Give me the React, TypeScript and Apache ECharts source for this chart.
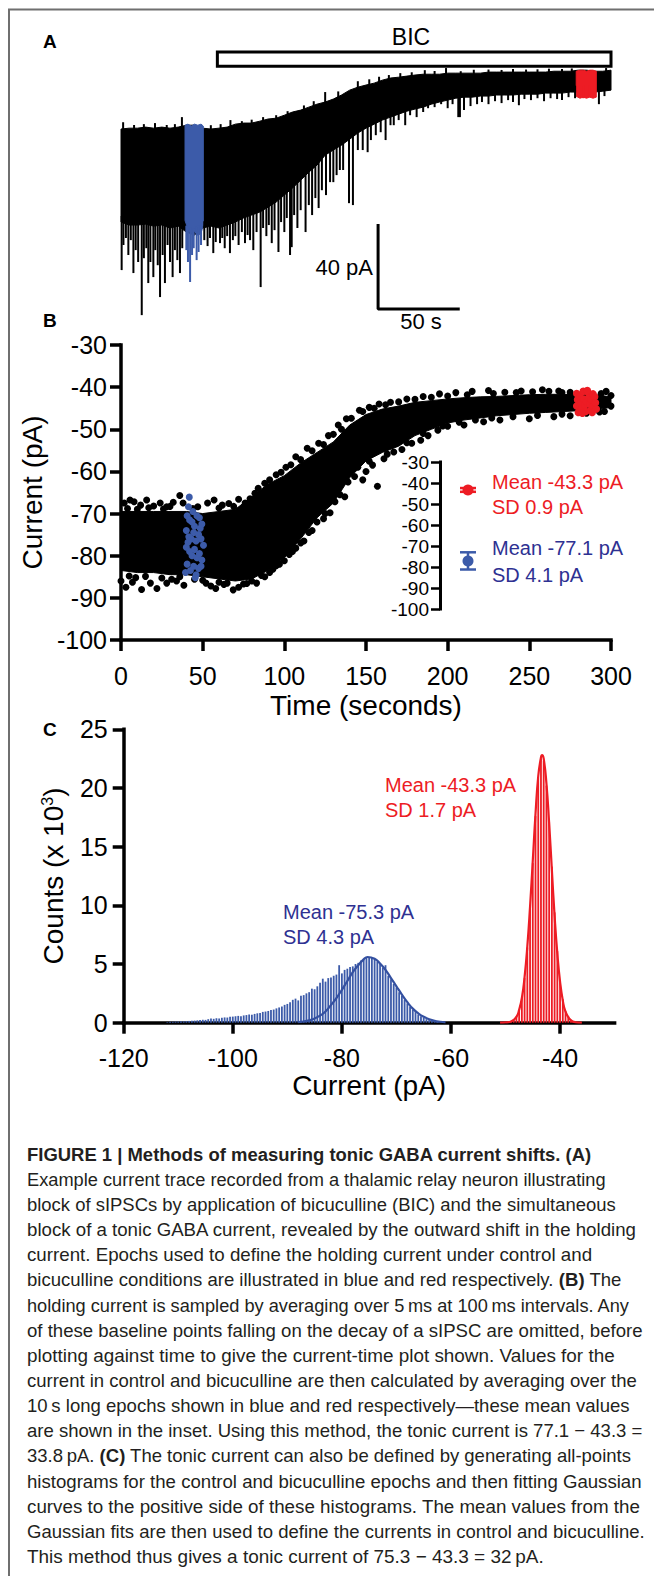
import React, { useEffect, useRef } from "react";
import * as echarts from "echarts";

const FONT = "'Liberation Sans', Arial, Helvetica, sans-serif";
const RED = "#ED1C24";
const BLUE_DOT = "#3C5BA9";
const BLUE_TEXT = "#2E3192";
const INK = "#000";

// ---------------- Panel A: current trace (pA) ----------------
const traceTime = [0,5,10,15,20,25,30,35,40,45,50,55,60,65,70,75,80,85,90,95,100,105,110,115,120,125,130,135,140,145,150,155,160,165,170,175,180,185,190,195,200,205,210,215,220,225,230,235,240,245,250,255,260,265,270,275,280,285,290,295,300];
const traceTop = [-64.9,-64.5,-64.5,-64.0,-64.5,-64.0,-64.5,-64.0,-63.1,-63.1,
  -64.5,-64.9,-64.5,-64.0,-62.6,-62.1,-62.1,-61.2,-60.2,-59.8,
  -58.4,-56.9,-56.0,-54.6,-53.2,-52.2,-50.8,-48.9,-46.6,-45.2,
  -44.2,-43.3,-41.9,-40.9,-40.5,-40.0,-39.5,-39.1,-39.1,-39.1,
  -38.6,-38.6,-38.6,-38.6,-38.6,-38.1,-38.1,-38.1,-38.1,-38.1,
  -38.1,-38.1,-38.1,-37.7,-37.7,-37.7,-37.2,-37.2,-37.7,-37.7,-37.2];
const traceBottom = [-108.7,-110.1,-110.1,-109.7,-110.6,-110.1,-111.5,-110.6,-113.4,-114.8,
  -111.5,-110.6,-111.5,-110.1,-108.7,-106.8,-105.4,-104.0,-101.7,-99.3,
  -96.0,-92.7,-89.0,-85.2,-81.9,-77.2,-74.8,-72.5,-69.7,-66.8,
  -64.5,-62.6,-60.7,-59.3,-57.9,-56.5,-55.5,-54.6,-53.2,-52.2,
  -51.3,-50.4,-49.9,-49.9,-49.4,-49.4,-48.9,-48.9,-48.9,-48.5,
  -48.5,-48.5,-48.0,-48.0,-48.0,-47.5,-47.5,-47.5,-47.5,-47.1,-46.6];
// downward sIPSC tips [time s, current pA]
const traceSpikes = [[0.4,-131.3],[1.5,-119.5],[3,-116.2],[4.5,-124.2],[6,-117.2],[7.6,-132.7],[9,-121.9],[10.5,-127.5],[12.7,-152.5],[14,-125.7],[15.5,-121.0],[16.7,-137.4],[18,-127.5],[19.8,-134.6],[21,-121.9],[22.5,-129.0],[23.9,-144.0],[25.5,-124.2],[26.9,-137.4],[28.5,-119.5],[30,-127.5],[31.6,-134.6],[33,-121.9],[34.5,-126.6],[36.1,-132.7],[37.5,-121.0],
  [40,-121.9],[41,-127.5],[42.3,-136.9],[43.5,-124.2],[44.5,-121.0],[46.3,-126.6],[47.5,-122.8],[49,-119.5],
  [51,-117.2],[53,-120.0],[54.5,-116.2],[56.5,-123.3],[58,-118.1],[60.6,-118.6],[62,-116.2],[63.5,-121.0],[65,-115.3],[66.7,-123.3],[68.5,-117.2],[70,-115.3],[72,-119.5],[74,-113.4],[75.9,-118.6],[77.5,-114.8],[79,-117.2],[81,-121.9],[83,-113.4],[85.5,-139.3],[87,-111.5],[89,-115.3],[90.5,-110.1],[92.3,-118.6],[94,-112.5],[96.4,-122.8],[98,-108.7],[100,-113.4],[101.5,-106.8],[103.5,-124.2],[104.5,-120.5],[106,-105.4],[108,-111.5],[110,-103.1],[113,-113.4],[115,-100.7],[117,-105.4],[119,-97.4],[121,-102.1],[123,-93.7],[125.5,-96.0],[128,-89.9],[130,-89.9],[132,-86.6],[134,-84.2],[136,-84.2],[139.6,-99.8],[142,-100.7],[145,-74.8],[148,-74.8],[151,-75.8],[153,-70.1],[156,-67.8],[159,-66.4],[162,-70.1],[165,-63.1],[167,-63.1],[170,-60.7],[174,-63.1],[177,-58.4],[181,-59.3],[185,-56.9],[188,-55.1],[192,-54.6],[196,-53.2],[200,-55.1],[203,-53.2],[206.5,-59.3],[207.5,-59.3],[210,-56.0],[214,-54.1],[218,-53.2],[221,-52.2],[225,-53.2],[229,-51.8],[233,-52.7],[237,-51.3],[240,-52.2],[243.6,-53.7],[247,-50.8],[251,-51.3],[255,-50.4],[259,-51.8],[263,-50.4],[267,-50.8],[270,-51.3],[274,-49.9],[278,-50.4],[283,-50.4],[287,-49.9],[292.6,-53.2],[296,-49.4]];
// upward noise peaks [time s, current pA]
const tracePeaks = [[1.3,-61.7],[8,-63],[14,-62.6],[20.8,-62.1],[28,-63],[33,-62.6],[37.3,-59.3],[55,-63.1],[61,-62.6],[67,-60.7],[74,-61.2],[80,-60.5],[87,-59.3],[95,-58.4],[102,-56.5],[112,-53.8],[118,-51.8],[125,-47.5],[133,-47.2],[145,-42.4],[152,-41.5],[158,-40.3],[164,-39.5],[171,-38.6],[178,-38.2],[186,-37.2],[192,-37.6],[199,-36.2],[208,-37.7],[216,-37],[225,-36.9],[233,-37.1],[240,-36.7],[248,-36.9],[255,-36.8],[262,-36.5],[270,-36.6],[276,-36.4],[297,-36.2]];
// control (blue) and bicuculline (red) epochs
const blueEpochTime = [39.2,41,43,45,47,49,50.4];
const blueEpochTop = [-63.1,-62.6,-63.5,-62.6,-63.1,-62.6,-63.5];
const blueEpochBottom = [-108,-112,-114,-113,-115,-114,-110];
const redEpochTime = [278.7,281,283,285,287,289,291];
const redEpochTop = [-37.7,-37.2,-37.2,-37.7,-37.2,-37.2,-37.7];
const redEpochBottom = [-49.5,-50.4,-49.9,-50.4,-49.9,-50.4,-49.9];
const bicStart = 59;
const bicEnd = 300;
const scaleBarCurrent = 40; // pA
const scaleBarTime = 50; // s

// ---------------- Panel B: holding current vs time ----------------
const bandTime = [0,10,20,30,40,50,60,70,80,90,100,110,120,130,140,150,160,170,180,190,200,210,220,230,240,250,260,270,280,290,300];
const bandUpper = [-69.5,-69.5,-69.5,-69.5,-69.5,-70,-69.5,-69,-66,-63,-61,-58,-55.5,-53,-49,-46.5,-45.2,-44.5,-43.6,-43.2,-42.8,-42.5,-42.3,-42.2,-42,-41.8,-41.7,-41.7,-41.8,-41.8,-42.3];
const bandLower = [-83.5,-84,-84,-84.5,-84.5,-85,-85.5,-86,-85.5,-83.5,-80.5,-76,-71,-67.5,-61.5,-57.5,-55.5,-54,-51.5,-50,-48.5,-47.8,-47.3,-46.8,-46.5,-46.2,-46,-45.8,-45.6,-45.4,-44.8];
const scatterOutliers = [[2,-67.5],[5.5,-66.8],[8,-67.2],[12,-68],[15.7,-66.8],[20,-68.2],[24,-67.5],[28,-68.4],[32,-67.3],[36,-65.7],[38,-67.5],[53,-67.5],[57,-66.8],[62,-68],[66,-67.6],[72,-66.6],[76,-67.5],[84,-64],[88,-62.8],[95,-60.8],[101,-59],[107,-56.5],[114,-54.5],[121,-53.3],[127,-51.5],[133,-49],[138,-47.5],[146,-45.5],[152,-44.8],[158,-44],[165,-43.6],[175,-42.8],[185,-42.2],[195,-41.6],[205,-41.3],[215,-41],[225,-40.8],[235,-41.2],[245,-40.9],[258,-40.6],[268,-40.9],[275,-41.2],[297,-41],
  [4,-68.8],[10,-69],[17,-68.6],[26,-68.9],[30,-68.3],[44,-68.8],[47,-68.4],[60,-68.7],[69,-68.3],[79,-66.5],[82,-65.2],[91,-62],[98,-60.2],[104,-58.4],[110,-57.2],[117,-55.1],[124,-53.6],[130,-51.2],[135,-50],[141,-47.4],[148,-45.8],[155,-45],[162,-44.2],[170,-43.5],[180,-42.9],[190,-42.4],[200,-42.1],[212,-41.8],[228,-41.5],[242,-41.3],[252,-41.1],[262,-41],[270,-41.3],[294,-41.5],[300,-42],
  [0,-86],[3,-87.5],[7,-86.3],[12.6,-88],[18,-86.5],[22,-87.8],[28,-86.5],[34,-86],[38.5,-87],[52,-86.5],[55,-87.2],[58,-87.8],[63,-86.8],[68.7,-88.1],[72,-87.5],[77,-86.6],[83,-86.5],[88,-85],[93,-83.2],[97,-82],[103,-79.7],[107,-78.2],[112,-76.5],[117,-74],[124,-71.2],[128,-69.8],[134,-65.5],[137,-66],[143,-61.2],[148,-62],[150,-60],[154,-58.5],[157,-63.5],[161,-57],[167,-55.4],[172,-54.8],[178,-53.3],[183.5,-52.6],[188,-51.5],[194,-50.2],[200,-49.3],[210,-49],[222,-48.2],[232,-47.8],[250,-47.5],[265,-47],[275,-46.8],[296,-45.8],
  [5,-84.8],[9,-85.2],[15,-84.9],[25,-85.3],[31,-85.6],[36,-85],[45,-85.6],[50,-85.8],[60,-86.3],[65,-86.5],[75,-86.7],[80,-86],[86,-84.7],[91,-84],[95,-82.4],[100,-81.2],[105,-79],[110,-77],[115,-74.5],[120,-72],[125,-70],[131,-67.2],[139,-62.5],[145,-59],[152,-57.6],[163,-55.9],[175,-53.2],[185,-51],[197,-49.2],[207,-48.3],[217,-47.8],[227,-47.3],[240,-47],[255,-46.7],[270,-46.4],[285,-46.2],[293,-45.9],[300,-44.5]];
const controlPoints = [[41.8,-66.1],[41.3,-68.4],[40.5,-70.5],[42,-71.5],[43.5,-72],[45,-73],[46.5,-70.5],[48,-71],[49.5,-72.5],[40,-74],[41.5,-75.5],[43,-76],[44.5,-74.5],[46,-76.5],[47.5,-75],[49,-76],[50.5,-77.5],[40,-78],[42,-79],[43.5,-80],[45,-78.5],[46.5,-80.5],[48,-79.5],[49.5,-81],[40.5,-82],[42.5,-83.5],[44.5,-82.5],[46,-84.5],[47.5,-83],[49,-82.5],[39.5,-84],[45.5,-85.2],[41,-76.8],[48.5,-73.5],[44,-69.5]];
const bicPoints = [[279,-41.5],[279.5,-43],[279,-44.5],[280,-46],[281,-42.2],[281.5,-43.8],[282,-45.2],[283,-41],[283.5,-42.8],[284,-44.3],[284.5,-45.8],[285,-43.5],[286,-41.3],[286.5,-42.5],[287,-44],[287.5,-45.5],[288,-43],[289,-41.6],[289,-44.6],[290,-42.3],[290.5,-43.7],[291,-45.2],[282.5,-46.2],[285.5,-40.8],[288.5,-46]];
const insetMean = [-43.3, -77.1];
const insetSD = [0.9, 4.1];

// ---------------- Panel C: all-points histograms (x10^3 counts) ----------------
const histTicks = [-120, -100, -80, -60, -40];
const binWidth = 0.5;
const controlBinStart = -112;
const controlCounts = [0.05,0.08,0.08,0.1,0.1,0.12,0.12,0.14,0.15,0.17,
  0.18,0.2,0.22,0.25,0.24,0.3,0.35,0.33,0.38,0.36,
  0.42,0.45,0.44,0.5,0.52,0.55,0.58,0.56,0.62,0.65,
  0.7,0.68,0.75,0.8,0.82,0.92,0.95,1.0,1.08,1.12,
  1.22,1.3,1.38,1.52,1.6,1.75,1.95,2.05,1.9,2.3,
  2.35,2.5,2.6,2.9,2.85,3.1,3.4,3.75,3.5,3.8,
  3.85,4.0,4.1,4.9,4.2,4.5,4.6,4.75,4.8,5.0,
  5.1,5.3,5.45,5.55,5.6,5.55,5.45,5.2,5.0,4.7,
  4.9,4.0,3.7,3.3,3.0,2.6,2.3,1.95,1.65,1.35,
  1.1,0.9,0.7,0.55,0.42,0.3,0.22,0.15,0.1,0.06];
const bicBinStart = -50;
const bicCounts = [0.05,0.1,0.15,0.3,0.55,1.1,2.1,3.8,6.4,9.8,13.6,17.6,20.8,22.5,22.3,20.2,17.1,13.3,9.4,6.1,3.6,2.0,1.0,0.5,0.25,0.1,0.05];
const controlFit = [[-88,0.05],[-87,0.1],[-86,0.2],[-85,0.36],[-84,0.6],[-83,0.96],[-82,1.5],[-81,2.1],[-80,2.8],[-79,3.55],[-78,4.3],[-77,4.9],[-76,5.4],[-75.3,5.6],[-74,5.45],[-73,5.05],[-72,4.5],[-71,3.8],[-70,3.1],[-69,2.4],[-68,1.75],[-67,1.2],[-66,0.8],[-65,0.5],[-64,0.3],[-63,0.16],[-62,0.08],[-61,0.03]];
const bicFit = [[-51,0],[-50,0.02],[-49,0.1],[-48,0.5],[-47.5,1.1],[-47,2.1],[-46.5,3.9],[-46,6.5],[-45.5,9.9],[-45,13.8],[-44.5,17.8],[-44,21.0],[-43.5,22.6],[-43.3,22.8],[-43,22.5],[-42.5,20.4],[-42,17.0],[-41.5,13.0],[-41,9.1],[-40.5,5.9],[-40,3.5],[-39.5,1.9],[-39,0.95],[-38,0.2],[-37,0.03],[-36,0]];

// ---------------- Caption ----------------
const captionLines = [
  "{b|FIGURE 1 | Methods of measuring tonic GABA current shifts. (A)}",
  "Example current trace recorded from a thalamic relay neuron illustrating",
  "block of sIPSCs by application of bicuculline (BIC) and the simultaneous",
  "block of a tonic GABA current, revealed by the outward shift in the holding",
  "current. Epochs used to define the holding current under control and",
  "bicuculline conditions are illustrated in blue and red respectively. {b|(B)} The",
  "holding current is sampled by averaging over 5\u2009ms at 100\u2009ms intervals. Any",
  "of these baseline points falling on the decay of a sIPSC are omitted, before",
  "plotting against time to give the current-time plot shown. Values for the",
  "current in control and bicuculline are then calculated by averaging over the",
  "10\u2009s long epochs shown in blue and red respectively\u2014these mean values",
  "are shown in the inset. Using this method, the tonic current is 77.1 \u2212 43.3 =",
  "33.8\u2009pA. {b|(C)} The tonic current can also be defined by generating all-points",
  "histograms for the control and bicuculline epochs and then fitting Gaussian",
  "curves to the positive side of these histograms. The mean values from the",
  "Gaussian fits are then used to define the currents in control and bicuculline.",
  "This method thus gives a tonic current of 75.3 \u2212 43.3 = 32\u2009pA.",
];
const captionRight = [592, 606, 616, 637, 592, 622, 630, 643, 615, 637, 630, 643, 631, 642, 641, 645, 544];
const CAP_SIZE = 18.5;
const CAP_LEFT = 27;
const CAP_TOP = 1154;
const CAP_STEP = 25.16;

function interp(xs: number[], ys: number[], x: number) {
  if (x <= xs[0]) return ys[0];
  for (let i = 1; i < xs.length; i++) {
    if (x <= xs[i]) {
      const f = (x - xs[i - 1]) / (xs[i] - xs[i - 1]);
      return ys[i - 1] + f * (ys[i] - ys[i - 1]);
    }
  }
  return ys[ys.length - 1];
}

function epochColor(t: number) {
  if (t >= blueEpochTime[0] && t <= blueEpochTime[blueEpochTime.length - 1]) return BLUE_DOT;
  if (t >= redEpochTime[0] && t <= redEpochTime[redEpochTime.length - 1]) return RED;
  return INK;
}

function envelope(xi: number, times: number[], top: number[], bottom: number[], color: string, z = 2) {
  return {
    type: "custom",
    xAxisIndex: xi,
    yAxisIndex: xi,
    z,
    silent: true,
    data: [[times[0], top[0]]],
    renderItem: (params: any, api: any) => {
      const pts: number[][] = [];
      for (let i = 0; i < times.length; i++) pts.push(api.coord([times[i], top[i]]));
      for (let i = times.length - 1; i >= 0; i--) pts.push(api.coord([times[i], bottom[i]]));
      return { type: "polygon", shape: { points: pts }, style: { fill: color, stroke: color, lineWidth: 1 } };
    },
  };
}

function measureLine(ctx: CanvasRenderingContext2D, line: string) {
  const parts = line.split(/(\{b\|[^}]*\})/);
  let w = 0;
  for (const p of parts) {
    if (!p) continue;
    const m = p.match(/^\{b\|([^}]*)\}$/);
    ctx.font = (m ? "bold " : "") + CAP_SIZE + "px " + FONT;
    w += ctx.measureText(m ? m[1] : p).width;
  }
  return w;
}

function buildOption() {
  const canvas = document.createElement("canvas");
  const ctx = canvas.getContext("2d") as CanvasRenderingContext2D;

  const axisLine = { show: true, lineStyle: { color: INK, width: 3.5, cap: "square" } };
  const axisTick = (len: number, w: number) => ({ show: true, length: len, lineStyle: { color: INK, width: w } });
  const label = (size: number, margin: number) => ({ fontSize: size, color: INK, fontFamily: FONT, margin });

  const scaleT0 = 157.4;
  const scaleV0 = -149.6;

  const captionGraphics = captionLines.map((line, i) => {
    const w = measureLine(ctx, line);
    const s = (captionRight[i] - CAP_LEFT) / w;
    return {
      type: "text",
      x: CAP_LEFT,
      y: CAP_TOP + i * CAP_STEP,
      scaleX: s,
      style: {
        text: line,
        fontSize: CAP_SIZE,
        fontFamily: FONT,
        fill: "#231F20",
        verticalAlign: "middle",
        align: "left",
        rich: { b: { fontSize: CAP_SIZE, fontFamily: FONT, fontWeight: "bold", fill: "#231F20" } },
      },
    };
  });

  const txt = (text: string, x: number, y: number, size: number, color: string, extra: any = {}) => ({
    type: "text",
    x,
    y,
    style: { text, fontSize: size, fontFamily: FONT, fill: color, verticalAlign: "middle", align: "left", ...extra },
  });

  return {
    animation: false,
    backgroundColor: "#fff",
    grid: [
      { left: 121, top: 40, width: 490, height: 290 },
      { left: 121, top: 345, width: 490, height: 295 },
      { left: 440, top: 462, width: 56, height: 147 },
      { left: 123.7, top: 729.3, width: 490.9, height: 293.4 },
    ],
    xAxis: [
      { gridIndex: 0, type: "value", min: 0, max: 300, show: false },
      {
        gridIndex: 1, type: "value", min: 0, max: 300, interval: 50,
        axisLine, axisTick: axisTick(11, 3.5), axisLabel: label(25, 23), splitLine: { show: false },
        name: "Time (seconds)", nameLocation: "middle", nameGap: 51,
        nameTextStyle: { fontSize: 28, fontFamily: FONT, color: INK },
      },
      { gridIndex: 2, type: "value", min: 0, max: 1, show: false },
      {
        gridIndex: 3, type: "value", min: -120, max: -30, interval: 20,
        axisLine,
        axisTick: { ...axisTick(11, 3.5), customValues: histTicks },
        axisLabel: { ...label(25, 23), customValues: histTicks },
        splitLine: { show: false },
        name: "Current (pA)", nameLocation: "middle", nameGap: 49,
        nameTextStyle: { fontSize: 28, fontFamily: FONT, color: INK },
      },
    ],
    yAxis: [
      { gridIndex: 0, type: "value", min: -159.5, max: -23, show: false },
      {
        gridIndex: 1, type: "value", min: -100, max: -30, interval: 10,
        axisLine, axisTick: axisTick(11, 3.5), axisLabel: label(25, 14), splitLine: { show: false },
        name: "Current (pA)", nameLocation: "middle", nameGap: 53,
        nameTextStyle: { fontSize: 28, fontFamily: FONT, color: INK },
      },
      {
        gridIndex: 2, type: "value", min: -100, max: -30, interval: 10,
        axisLine: { show: true, lineStyle: { color: INK, width: 3, cap: "square" } },
        axisTick: axisTick(9, 2.5), axisLabel: label(19, 11), splitLine: { show: false },
      },
      {
        gridIndex: 3, type: "value", min: 0, max: 25, interval: 5,
        axisLine, axisTick: axisTick(11, 3.5), axisLabel: label(25, 16), splitLine: { show: false },
        name: "Counts (x 10{sup|3})", nameLocation: "middle", nameGap: 56,
        nameTextStyle: {
          fontSize: 28, fontFamily: FONT, color: INK,
          rich: { sup: { fontSize: 16, fontFamily: FONT, color: INK, verticalAlign: "top", padding: [0, 0, 12, 0] } },
        },
      },
    ],
    series: [
      // ----- A -----
      envelope(0, traceTime, traceTop, traceBottom, INK, 2),
      envelope(0, blueEpochTime, blueEpochTop, blueEpochBottom, BLUE_DOT, 3),
      envelope(0, redEpochTime, redEpochTop, redEpochBottom, RED, 3),
      {
        type: "custom", xAxisIndex: 0, yAxisIndex: 0, z: 4, silent: true,
        data: traceSpikes,
        renderItem: (params: any, api: any) => {
          const t = api.value(0);
          const tip = api.value(1);
          const base = interp(traceTime, traceBottom, t) + 3;
          const p1 = api.coord([t, base]);
          const p2 = api.coord([t, tip]);
          return { type: "line", shape: { x1: p1[0], y1: p1[1], x2: p2[0], y2: p2[1] }, style: { stroke: epochColor(t), lineWidth: 2 } };
        },
      },
      {
        type: "custom", xAxisIndex: 0, yAxisIndex: 0, z: 4, silent: true,
        data: tracePeaks,
        renderItem: (params: any, api: any) => {
          const t = api.value(0);
          const tip = api.value(1);
          const base = interp(traceTime, traceTop, t) - 3;
          const p1 = api.coord([t, base]);
          const p2 = api.coord([t, tip]);
          return { type: "line", shape: { x1: p1[0], y1: p1[1], x2: p2[0], y2: p2[1] }, style: { stroke: epochColor(t), lineWidth: 2 } };
        },
      },
      {
        type: "line", xAxisIndex: 0, yAxisIndex: 0, z: 4, silent: true, showSymbol: false,
        data: [[scaleT0, scaleV0 + scaleBarCurrent], [scaleT0, scaleV0], [scaleT0 + scaleBarTime, scaleV0]],
        lineStyle: { color: INK, width: 3 },
      },
      {
        type: "custom", xAxisIndex: 0, yAxisIndex: 0, z: 4, silent: true,
        data: [[bicStart, bicEnd]],
        renderItem: (params: any, api: any) => {
          const a = api.coord([api.value(0), -28.7]);
          const b = api.coord([api.value(1), -35.3]);
          return { type: "rect", shape: { x: a[0], y: a[1], width: b[0] - a[0], height: b[1] - a[1] }, style: { fill: "#fff", stroke: INK, lineWidth: 3 } };
        },
      },
      // ----- B -----
      envelope(1, bandTime, bandUpper, bandLower, INK, 2),
      {
        type: "scatter", xAxisIndex: 1, yAxisIndex: 1, z: 3, silent: true,
        symbolSize: 7, itemStyle: { color: INK, opacity: 1 }, data: scatterOutliers,
      },
      {
        type: "scatter", xAxisIndex: 1, yAxisIndex: 1, z: 4, silent: true,
        symbolSize: 7, itemStyle: { color: BLUE_DOT, opacity: 1 }, data: controlPoints,
      },
      {
        type: "scatter", xAxisIndex: 1, yAxisIndex: 1, z: 4, silent: true,
        symbolSize: 7.5, itemStyle: { color: RED, opacity: 1 }, data: bicPoints,
      },
      {
        type: "custom", xAxisIndex: 2, yAxisIndex: 2, z: 5, silent: true,
        data: insetMean.map((m, i) => [0.5, m, insetSD[i]]),
        renderItem: (params: any, api: any) => {
          const c = params.dataIndex === 0 ? RED : BLUE_DOT;
          const x = api.value(0);
          const m = api.value(1);
          const sd = api.value(2);
          const pm = api.coord([x, m]);
          const ph = api.coord([x, m + sd]);
          const pl = api.coord([x, m - sd]);
          return {
            type: "group",
            children: [
              { type: "line", shape: { x1: pm[0], y1: ph[1], x2: pm[0], y2: pl[1] }, style: { stroke: c, lineWidth: 2.5 } },
              { type: "line", shape: { x1: pm[0] - 8, y1: ph[1], x2: pm[0] + 8, y2: ph[1] }, style: { stroke: c, lineWidth: 2.5 } },
              { type: "line", shape: { x1: pm[0] - 8, y1: pl[1], x2: pm[0] + 8, y2: pl[1] }, style: { stroke: c, lineWidth: 2.5 } },
              { type: "circle", shape: { cx: pm[0], cy: pm[1], r: 5.5 }, style: { fill: c } },
            ],
          };
        },
      },
      // ----- C -----
      {
        type: "custom", xAxisIndex: 3, yAxisIndex: 3, z: 3, silent: true,
        data: controlCounts.map((c, i) => [controlBinStart + i * binWidth, c]),
        renderItem: (params: any, api: any) => {
          const p0 = api.coord([api.value(0), 0]);
          const p1 = api.coord([api.value(0), api.value(1)]);
          return { type: "rect", shape: { x: p0[0] - 0.9, y: p1[1], width: 1.8, height: p0[1] - p1[1] }, style: { fill: BLUE_DOT } };
        },
      },
      {
        type: "custom", xAxisIndex: 3, yAxisIndex: 3, z: 3, silent: true,
        data: bicCounts.map((c, i) => [bicBinStart + i * binWidth, c]),
        renderItem: (params: any, api: any) => {
          const p0 = api.coord([api.value(0), 0]);
          const p1 = api.coord([api.value(0), api.value(1)]);
          return { type: "rect", shape: { x: p0[0] - 0.9, y: p1[1], width: 1.8, height: p0[1] - p1[1] }, style: { fill: RED } };
        },
      },
      {
        type: "line", xAxisIndex: 3, yAxisIndex: 3, z: 4, silent: true, showSymbol: false, smooth: true,
        data: controlFit, lineStyle: { color: "#3450A0", width: 2.2 },
      },
      {
        type: "line", xAxisIndex: 3, yAxisIndex: 3, z: 4, silent: true, showSymbol: false, smooth: true,
        data: bicFit, lineStyle: { color: RED, width: 2.2 },
      },
    ],
    graphic: [
      { type: "line", shape: { x1: 8, y1: 9.5, x2: 654, y2: 9.5 }, style: { stroke: "#6F6F6F", lineWidth: 2 } },
      { type: "line", shape: { x1: 9, y1: 9, x2: 9, y2: 1576 }, style: { stroke: "#6F6F6F", lineWidth: 2 } },
      txt("A", 43, 41, 19, INK, { fontWeight: "bold" }),
      txt("B", 43, 320, 19, INK, { fontWeight: "bold" }),
      txt("C", 43, 729, 19, INK, { fontWeight: "bold" }),
      txt("BIC", 411, 37, 23, INK, { align: "center" }),
      txt("40 pA", 373, 267, 22, INK, { align: "right" }),
      txt("50 s", 421, 321, 22, INK, { align: "center" }),
      txt("Mean -43.3 pA", 492, 482, 20, RED),
      txt("SD 0.9 pA", 492, 507, 20, RED),
      txt("Mean -77.1 pA", 492, 548, 20, BLUE_TEXT),
      txt("SD 4.1 pA", 492, 575, 20, BLUE_TEXT),
      txt("Mean -43.3 pA", 385, 785, 20, RED),
      txt("SD 1.7 pA", 385, 810, 20, RED),
      txt("Mean -75.3 pA", 283, 912, 20, BLUE_TEXT),
      txt("SD 4.3 pA", 283, 937, 20, BLUE_TEXT),
      ...captionGraphics,
    ],
  };
}

export default function App() {
  const ref = useRef<HTMLDivElement>(null);
  useEffect(() => {
    const el = ref.current as HTMLDivElement;
    const chart = echarts.init(el, null, { renderer: "svg" });
    chart.setOption(buildOption() as any);
    return () => chart.dispose();
  }, []);
  return (
    <div
      ref={ref}
      style={{ position: "absolute", left: 0, top: 0, width: 654, height: 1576, background: "#fff" }}
    />
  );
}
